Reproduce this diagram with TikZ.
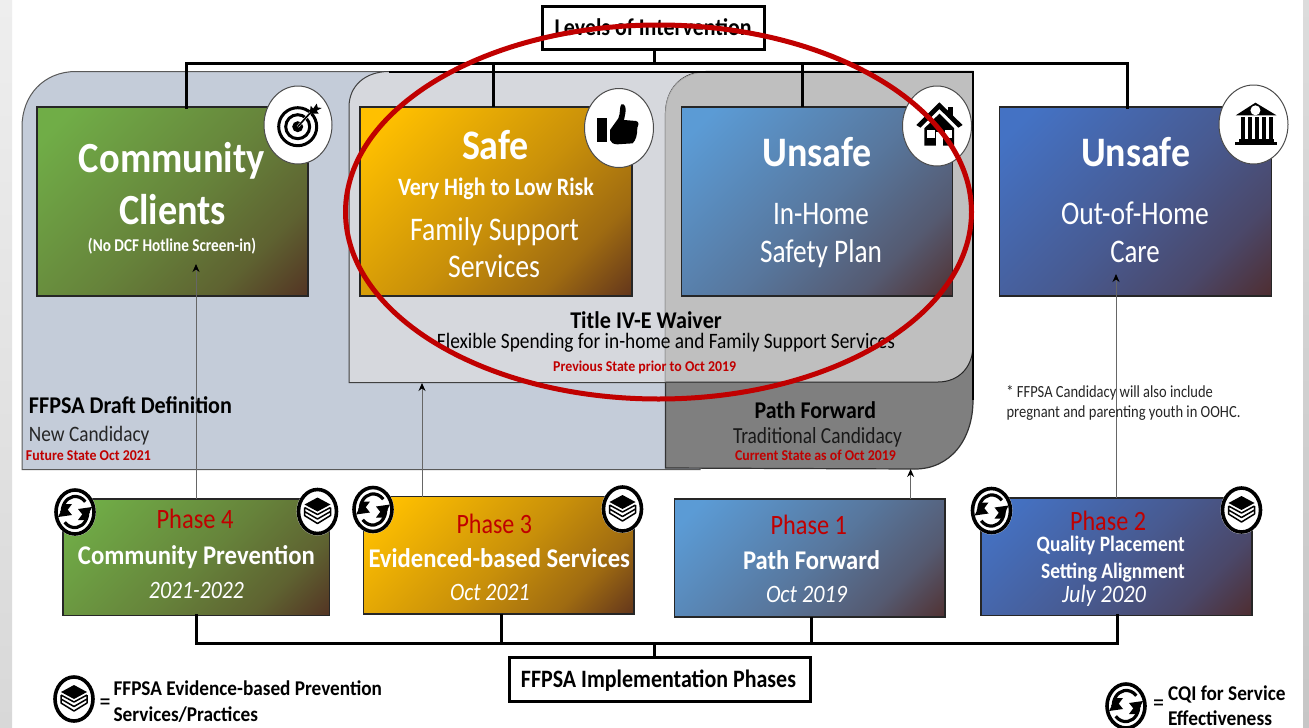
\documentclass[tikz,border=0pt]{standalone}
\usepackage{fontspec}
\usepackage{graphicx}
\setmainfont{Carlito}
\usetikzlibrary{arrows.meta,calc}
\definecolor{gDark}{HTML}{50251F}
\definecolor{cGreen}{HTML}{70AD47}
\definecolor{cOrange}{HTML}{FFC000}
\definecolor{cSky}{HTML}{5B9BD5}
\definecolor{cBlue}{HTML}{4472C4}
\definecolor{redT}{HTML}{C00000}
\definecolor{panelBlue}{HTML}{C4CCD9}
\definecolor{panelLight}{HTML}{D6D8DD}
\definecolor{panelMid}{HTML}{BFBFBF}
\definecolor{panelDark}{HTML}{7F7F7F}
\definecolor{stripA}{HTML}{EEEEEE}
\definecolor{stripB}{HTML}{D8D8D8}
\definecolor{stripC}{HTML}{DCDCDC}
\definecolor{stripD}{HTML}{C6C6C6}
\newcommand\mkshade[2]{%
  \pgfdeclarehorizontalshading{#1}{100bp}{color(0bp)=(#2); color(20bp)=(#2); color(52bp)=(#2!69!gDark); color(71bp)=(#2!45!gDark); color(90bp)=(gDark); color(100bp)=(gDark)}}
\mkshade{gGreen}{cGreen}
\mkshade{gOrange}{cOrange}
\mkshade{gSky}{cSky}
\mkshade{gBlue}{cBlue}
\tikzset{
  gbox/.style={shade,shading=#1,shading angle=-45,draw=black!85,line width=1.3pt,inner sep=0pt,outer sep=0pt},
  labelbox/.style={draw=black,fill=white,line width=3pt,inner sep=0pt,outer sep=0pt},
  lbl/.style={inner sep=0pt,outer sep=0pt,anchor=base},
  bus/.style={draw=black,line width=3pt},
  feed/.style={draw=black!60,line width=1pt,-{Stealth[length=8pt,width=7pt,black]}},
  badge/.style={fill=white,draw=black!70,line width=1pt},
}
% name, x, y(baseline), width, size, colour, text
\newcommand\T[7]{\node[lbl,text=#6] (#1) at (#2,#3) {\resizebox{#4pt}{\height}{\fontsize{#5pt}{#5pt}\selectfont #7}};}
\newcommand\cqiicon[2]{\begin{scope}[shift={(#1,#2)},y=1pt]
  \fill[white] (0,0) ellipse[x radius=21pt,y radius=24pt];
  \draw[black,line width=3.6pt] (0,0) ellipse[x radius=19pt,y radius=22pt];
  \draw[black,line width=3.2pt] (-12.5,-2) arc[start angle=190,end angle=40,x radius=13pt,y radius=15pt];
  \draw[black,line width=3.2pt] (12.5,2) arc[start angle=10,end angle=-140,x radius=13pt,y radius=15pt];
  \fill[black] (3,3) -- (17,5) -- (11,-7) -- cycle;
  \fill[black] (-3,-3) -- (-17,-5) -- (-11,7) -- cycle;
  \fill[black] (-15,0) -- (-9,0) -- (-3,8) -- (-10,8) -- cycle;
  \fill[black] (15,0) -- (9,0) -- (3,-8) -- (10,-8) -- cycle;
\end{scope}}
\newcommand\stackicon[2]{\begin{scope}[shift={(#1,#2)},y=1pt]
  \fill[white] (0,0) ellipse[x radius=21pt,y radius=24pt];
  \draw[black,line width=3.6pt] (0,0) ellipse[x radius=19pt,y radius=22pt];
  \fill[black] (-13,7) -- (0,14) -- (13,7) -- (0,0) -- cycle;
  \draw[black,line width=1.5pt,line join=round] (-13,4) -- (0,-3) -- (13,4) (-13,4) -- (-13,0) -- (0,-7.5) -- (13,0) -- (13,4) (-13,0) -- (-13,-4) -- (0,-12) -- (13,-4) -- (13,0);
\end{scope}}
\begin{document}
\begin{tikzpicture}[x=1pt,y=-1pt]
\useasboundingbox (0,0) rectangle (1309,728);
\fill[white] (0,0) rectangle (1309,728);
\shade[top color=stripA,bottom color=stripB] (0,0) rectangle (12,728);
\shade[top color=stripC,bottom color=stripD] (1303,0) rectangle (1309,728);
% panels
\draw[fill=panelBlue,draw=black!65,line width=1pt] (22,469.5) -- (22,127) .. controls (22,95) and (44,71.5) .. (76,71.5) -- (700,71.5) -- (700,469.5) -- cycle;
\draw[fill=panelLight,draw=black!75,line width=1pt] (700,382.5) -- (349,382.5) -- (349,107) .. controls (349,86) and (365,71.5) .. (389,71.5) -- (700,71.5);
\fill[panelLight] (640,73) rectangle (720,382);
\draw[fill=panelDark,draw=black!80,line width=1.2pt] (665.5,468) -- (665.5,115) .. controls (665.5,88) and (682,71.5) .. (708,71.5) -- (973,71.5) -- (973,400) .. controls (973,440) and (950,469) .. (915,469) -- cycle;
\fill[panelMid] (665.5,382) -- (665.5,115) .. controls (665.5,88) and (682,72) .. (708,72) -- (973,72) -- (973,345) .. controls (973,368) and (958,382) .. (938,382) -- cycle;
\draw[black!35,line width=.8pt] (665.5,382) -- (665.5,115) .. controls (665.5,88) and (682,72) .. (708,72);
\draw[black!85,line width=1pt] (665.5,382) -- (938,382) .. controls (958,382) and (973,368) .. (973,345);
\draw[black,line width=2pt] (389,71.5) -- (973,71.5) -- (973,400);
% boxes
\node[gbox=gGreen,minimum width=271pt,minimum height=189pt] (comm) at (172.5,201.5) {};
\node[gbox=gOrange,minimum width=272pt,minimum height=189pt] (safe) at (496,201.5) {};
\node[gbox=gSky,minimum width=271pt,minimum height=189pt] (inhome) at (817,201.5) {};
\node[gbox=gBlue,minimum width=272pt,minimum height=189pt] (oohome) at (1135.7,201.5) {};
\node[gbox=gGreen,minimum width=266.5pt,minimum height=116.7pt] (p4) at (196.2,557.3) {};
\node[gbox=gOrange,minimum width=270.4pt,minimum height=117.3pt] (p3) at (498.8,555.3) {};
\node[gbox=gSky,minimum width=270.6pt,minimum height=118pt] (p1) at (809.7,558) {};
\node[gbox=gBlue,minimum width=271pt,minimum height=117.7pt] (p2) at (1116.5,556.8) {};
% heading boxes and buses
\node[labelbox,minimum width=222pt,minimum height=43pt] (levels) at (653,27.5) {};
\node[labelbox,minimum width=301pt,minimum height=44pt] (impl) at (659.5,679) {};
\coordinate (busL) at (186,63.5);
\coordinate (busR) at (1127,63.5);
\coordinate (dropB) at (493,63.5);
\coordinate (dropC) at (802,63.5);
\draw[bus] (levels.south -| 654,0) -- (654,63.5);
\draw[bus,line cap=rect] (comm.north -| busL) -- (busL) -- (busR) -- (oohome.north -| busR);
\draw[bus] (dropB) -- (safe.north -| dropB);
\draw[bus] (dropC) -- (inhome.north -| dropC);
\coordinate (lowL) at (196,643);
\coordinate (lowR) at (1117,643);
\coordinate (lowB) at (501,643);
\coordinate (lowC) at (811,643);
\coordinate (lowD) at (654.5,643);
\draw[bus,line cap=rect] (p4.south -| lowL) -- (lowL) -- (lowR) -- (p2.south -| lowR);
\draw[bus] (lowB) -- (p3.south -| lowB);
\draw[bus] (lowC) -- (p1.south -| lowC);
\draw[bus] (lowD) -- (impl.north -| lowD);
% feeds
\coordinate (tipA) at (196,264);
\coordinate (tipB) at (422,383);
\coordinate (tipC) at (910.6,469);
\coordinate (tipD) at (1116,274);
\draw[feed] (p4.north -| tipA) -- (tipA);
\draw[feed] (p3.north -| tipB) -- (tipB);
\draw[feed] (p1.north -| tipC) -- (tipC);
\draw[feed] (p2.north -| tipD) -- (tipD);
% badges
\draw[badge] (298,125) ellipse[x radius=34pt,y radius=39pt];
\draw[badge] (619,128) ellipse[x radius=34.5pt,y radius=39.5pt];
\draw[badge] (937,126) ellipse[x radius=34.5pt,y radius=40pt];
\draw[badge] (1253.5,124.5) ellipse[x radius=34.5pt,y radius=39.5pt];
% target
\begin{scope}[shift={(297.7,126.7)},y=1.1pt]
  \draw[black,line width=3pt] (0,0) circle[radius=19pt];
  \draw[black,line width=3pt] (0,0) circle[radius=12pt];
  \fill[black] (0,0) circle[radius=5.5pt];
  \draw[white,line width=2.5pt] (0,0) -- (16,16);
  \draw[black,line width=1.6pt] (0,0) -- (15,15);
  \fill[black] (12,12) -- (13,19) -- (15.5,16.5) -- (19,21) -- (20,17.5) -- (24,17) -- (19,14.5) -- (21,12) -- cycle;
\end{scope}
% thumb
\begin{scope}[shift={(580,85)},x=.3333pt,y=.3333pt,yscale=-1]
  \fill[black] (52,100) rectangle (80,170);
  \fill[black] (90,135) -- (115,100) .. controls (122,85) and (118,65) .. (124,58) .. controls (134,53) and (140,70) .. (136,85) -- (132,105) -- (168,108) .. controls (178,110) and (176,120) .. (172,128) .. controls (172,150) and (168,165) .. (158,175) -- (112,178) .. controls (100,178) and (92,172) .. (90,165) -- cycle;
\end{scope}
% house
\begin{scope}[shift={(898,85)},x=.351pt,y=.3333pt,yscale=-1]
  \fill[black] (143,66) rectangle (156,100);
  \fill[black] (52,120) -- (118,52) -- (184,120) -- (172,128) -- (118,72) -- (64,128) -- cycle;
  \fill[black] (75,130) -- (118,86) -- (160,130) -- (160,182) -- (75,182) -- cycle;
  \fill[white] (84,136) rectangle (104,160);
  \fill[white] (134,136) rectangle (154,160);
  \fill[white] (108,142) rectangle (128,182);
\end{scope}
% bank
\begin{scope}[shift={(1214,82)},x=.351pt,y=.3333pt,yscale=-1]
  \fill[black] (118,62) -- (178,100) -- (62,100) -- cycle;
  \fill[white] (118,85) circle[radius=5pt];
  \foreach \cx in {77,97,117,137,157} {\fill[black] (\cx,106) rectangle ++(12,66);}
  \fill[black] (70,172) rectangle (170,180);
  \fill[black] (60,180) rectangle (180,190);
\end{scope}
% small badges
\cqiicon{75}{512}
\stackicon{317.5}{511.5}
\cqiicon{373}{509.5}
\stackicon{622.5}{509}
\cqiicon{991.5}{510.5}
\stackicon{1241.5}{510}
\stackicon{74}{699}
\cqiicon{1126}{706}
% text
\T{tLev}{653.2}{35.5}{197}{24}{black}{\bfseries Levels of Intervention}
\T{tImpl}{658.5}{687.5}{275}{25}{black}{\bfseries FFPSA Implementation Phases}
\T{tCom}{172}{172}{186}{43}{white}{\bfseries Community}
\T{tCli}{172.5}{224}{107}{43}{white}{\bfseries Clients}
\T{tNo}{172}{251}{168}{18}{white}{\bfseries (No DCF Hotline Screen-in)}
\T{tSafe}{495.5}{159}{67}{42}{white}{\bfseries Safe}
\T{tVery}{496}{195}{196}{25}{white}{\bfseries Very High to Low Risk}
\T{tFam}{494.5}{240}{169}{33}{white}{Family Support}
\T{tSer}{494}{277.5}{92}{33}{white}{Services}
\T{tUn}{817}{166.5}{109.5}{42}{white}{\bfseries Unsafe}
\T{tIn}{821}{224.5}{96}{33}{white}{In-Home}
\T{tPlan}{821}{262.5}{122}{33}{white}{Safety Plan}
\T{tUnB}{1135.5}{166.5}{109}{42}{white}{\bfseries Unsafe}
\T{tOut}{1135}{224.5}{148}{33}{white}{Out-of-Home}
\T{tCare}{1135}{262.5}{49.5}{33}{white}{Care}
\T{tTitle}{646}{328.5}{151.5}{24}{black}{\bfseries Title IV-E Waiver}
\T{tFlex}{666}{348.5}{458}{22}{black}{Flexible Spending for in-home and Family Support Services}
\T{tPrev}{644.7}{371.5}{183}{15}{redT}{\bfseries Previous State prior to Oct 2019}
\T{tDraft}{130.5}{413.5}{203}{24}{black}{\bfseries FFPSA Draft Definition}
\T{tNew}{89.2}{441}{120.5}{22}{black!85}{New Candidacy}
\T{tFut}{88.5}{460.7}{125}{15}{redT}{\bfseries Future State Oct 2021}
\T{tPath}{815.3}{418.5}{121.5}{24}{black}{\bfseries Path Forward}
\T{tTrad}{817.5}{443.5}{169}{23}{black!90}{Traditional Candidacy}
\T{tCur}{815.5}{460}{161}{15}{redT}{\bfseries Current State as of Oct 2019}
\T{tFootA}{1109.7}{397}{206.5}{17}{black!85}{* FFPSA Candidacy will also include}
\T{tFootB}{1123.5}{417.7}{234}{17}{black!85}{pregnant and parenting youth in OOHC.}
\T{tPh4}{195}{528}{77}{28}{redT}{Phase 4}
\T{tCP}{196.5}{564.5}{237}{27}{white}{\bfseries Community Prevention}
\T{tY4}{196.5}{598.5}{95}{25}{white}{\itshape 2021-2022}
\T{tPh3}{494.3}{533}{75.5}{28}{redT}{Phase 3}
\T{tEv}{499.3}{567.5}{261.5}{27}{white}{\bfseries Evidenced-based Services}
\T{tY3}{489.8}{600.5}{79.5}{25}{white}{\itshape Oct 2021}
\T{tPh1}{808.8}{534}{76.5}{28}{redT}{Phase 1}
\T{tPF}{811.5}{569.5}{137}{27}{white}{\bfseries Path Forward}
\T{tY1}{806.5}{602}{81}{25}{white}{\itshape Oct 2019}
\T{tPh2}{1108}{530}{76}{28}{redT}{Phase 2}
\T{tQ}{1110.7}{551.5}{148}{22}{white}{\bfseries Quality Placement}
\T{tSA}{1113}{578.5}{143.7}{22}{white}{\bfseries Setting Alignment}
\T{tY2}{1104}{602}{84}{25}{white}{\itshape July 2020}
\T{tEqA}{105}{710}{11}{27}{black}{=}
\T{tLegA}{247.8}{695.5}{268.4}{21}{black}{\bfseries FFPSA Evidence-based Prevention}
\T{tLegB}{185.8}{721.5}{144.4}{21}{black}{\bfseries Services/Practices}
\T{tEqB}{1158.6}{711}{11}{27}{black}{=}
\T{tCqiA}{1226.8}{700}{117.6}{21}{black}{\bfseries CQI for Service}
\T{tCqiB}{1220}{725}{104}{21}{black}{\bfseries Effectiveness}
% red ellipse
\draw[redT,line width=5pt] (658.5,212) ellipse[x radius=313pt,y radius=187pt];
\end{tikzpicture}
\end{document}
